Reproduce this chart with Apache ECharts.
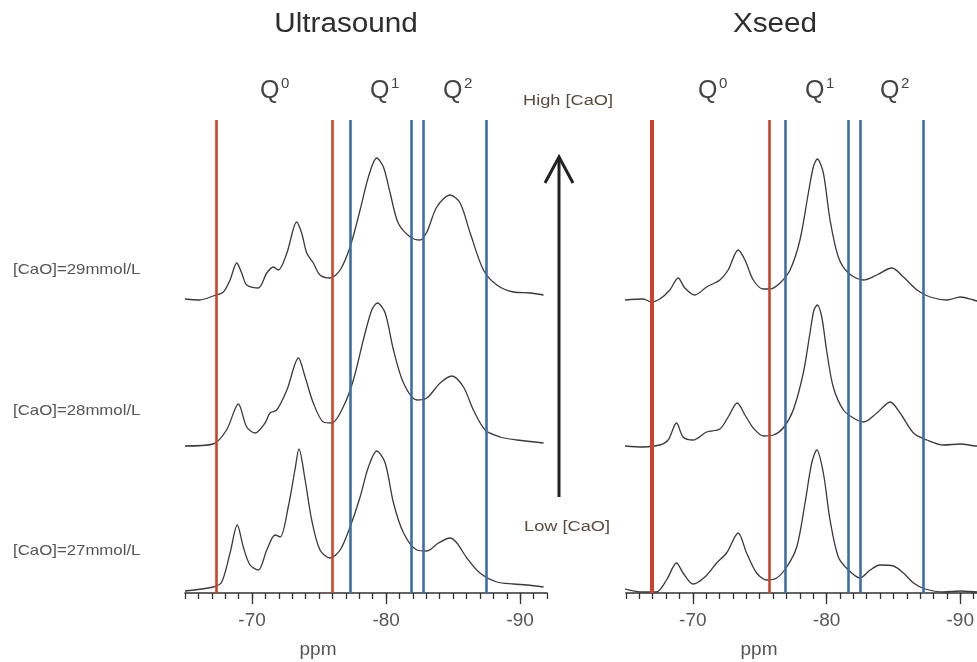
<!DOCTYPE html>
<html lang="en">
<head>
  <meta charset="utf-8" />
  <title>29Si NMR - Ultrasound vs Xseed</title>
  <script src="https://cdn.jsdelivr.net/npm/echarts@6/dist/echarts.min.js"></script>
  <style>html, body { margin: 0; background: #fff; overflow: hidden; }</style>
</head>
<body>
<!-- a bit wider than the window: the right axis runs past the page edge, like the original -->
<div id="main" style="width:1000px;height:662px;"></div>
<script>
// ppm tick labels
var tickLabels = [-70, -80, -90];
var traceLabels = ['[CaO]=29mmol/L', '[CaO]=28mmol/L', '[CaO]=27mmol/L'];

// reference lines (ppm)
var usRedLines = [-67.3, -76.0];
var usBlueLines = [-77.3, -81.9, -82.8, -87.5];
var xsRedLines = [-66.9, -75.7];
var xsBlueLines = [-76.9, -81.6, -82.5, -87.2];

// spectra: [ppm, intensity a.u.]
var us29 = [[-65.0, 0], [-66.1, -1], [-67.1, 3], [-67.86, 7], [-68.36, 19], [-68.86, 36], [-69.23, 26], [-69.6, 14],
  [-70.47, 11], [-71.1, 26], [-71.6, 32], [-71.96, 29], [-72.6, 46], [-73.33, 77], [-73.7, 66], [-74.08, 46],
  [-74.57, 36], [-75.07, 24], [-75.82, 21], [-76.57, 29], [-77.31, 52], [-78.06, 89], [-78.68, 122], [-79.3, 141],
  [-79.8, 132], [-80.3, 106], [-80.9, 76], [-81.8, 62], [-82.54, 59], [-83.04, 67], [-83.78, 92], [-84.78, 104],
  [-85.52, 96], [-86.27, 66], [-87.26, 29], [-88.26, 14], [-89.5, 7], [-90.75, 6], [-91.74, 4]];
var us28 = [[-65.0, -1], [-67.1, 1], [-68.1, 15], [-68.98, 41], [-69.6, 18], [-70.22, 12], [-70.97, 22], [-71.34, 32],
  [-71.84, 35], [-72.6, 55], [-73.46, 87], [-73.96, 68], [-74.57, 42], [-75.32, 23], [-75.95, 22], [-76.8, 38],
  [-77.56, 65], [-78.3, 105], [-78.93, 135], [-79.35, 142], [-79.93, 132], [-80.55, 95], [-81.3, 62], [-82.3, 45],
  [-83.04, 47], [-84.03, 62], [-84.9, 69], [-85.77, 58], [-86.51, 35], [-87.39, 15], [-88.5, 8], [-89.75, 5], [-91.74, 2]];
var us27 = [[-65.0, -1], [-67.1, 3], [-67.74, 8], [-68.36, 37], [-68.9, 65], [-69.35, 43], [-69.85, 25], [-70.47, 20],
  [-71.1, 40], [-71.72, 55], [-72.1, 53], [-72.7, 83], [-73.2, 120], [-73.5, 141], [-73.96, 110], [-74.45, 70],
  [-75.07, 40], [-75.82, 32], [-76.57, 40], [-77.31, 63], [-78.06, 93], [-78.68, 123], [-79.3, 139], [-79.93, 127],
  [-80.55, 87], [-81.3, 57], [-82.3, 40], [-83.04, 39], [-83.9, 47], [-84.78, 52], [-85.28, 47], [-86.02, 32],
  [-87.0, 17], [-88.26, 8], [-89.5, 6], [-90.5, 5], [-91.74, 3]];

var xs29 = [[-64.9, 0], [-66.28, 1], [-66.9, -2], [-67.53, 1], [-68.28, 10], [-68.9, 22], [-69.4, 12], [-70.15, 5],
  [-71.03, 13], [-72.02, 20], [-72.64, 30], [-73.39, 50], [-73.9, 40], [-74.52, 20], [-75.27, 11], [-75.77, 11],
  [-76.52, 17], [-77.27, 30], [-78.01, 60], [-78.64, 107], [-79.01, 133], [-79.31, 141], [-79.76, 127], [-80.26, 80],
  [-80.88, 43], [-81.63, 27], [-82.76, 20], [-83.76, 25], [-84.88, 32], [-85.75, 23], [-86.76, 10], [-87.75, 3],
  [-89.0, 0], [-90.0, 3], [-91.0, 0], [-92.0, -4]];
var xs28 = [[-64.9, 0], [-66.28, -1], [-67.53, 1], [-68.15, 6], [-68.78, 23], [-69.27, 9], [-70.02, 6], [-71.03, 14],
  [-72.02, 17], [-72.64, 29], [-73.32, 43], [-73.9, 31], [-74.52, 18], [-75.27, 10], [-76.02, 11], [-76.76, 18],
  [-77.51, 36], [-78.26, 73], [-78.76, 113], [-79.06, 136], [-79.31, 141], [-79.64, 129], [-80.0, 96], [-80.5, 59],
  [-81.26, 36], [-82.0, 28], [-82.76, 24], [-83.76, 33], [-84.76, 44], [-85.5, 33], [-86.5, 13], [-87.5, 6],
  [-88.75, 1], [-90.0, 2], [-91.26, 0], [-92.0, 1]];
var xs27 = [[-64.9, 1], [-66.28, -2], [-67.28, -2], [-68.03, 10], [-68.78, 27], [-69.27, 17], [-70.02, 6], [-70.9, 13],
  [-71.78, 27], [-72.52, 37], [-73.39, 57], [-74.02, 37], [-74.77, 17], [-75.52, 10], [-76.27, 12], [-77.02, 23],
  [-77.77, 43], [-78.39, 87], [-78.89, 127], [-79.27, 140], [-79.76, 117], [-80.26, 70], [-80.88, 33], [-81.63, 20],
  [-82.51, 12], [-83.26, 20], [-84.0, 25], [-85.0, 24], [-85.75, 17], [-86.5, 7], [-87.38, 1], [-88.75, -2],
  [-90.0, -1], [-91.26, -2], [-92.0, -1]];

// vertical stacking shift of each trace (29, 28, 27)
var usShift = [294, 148, 3];
var xsShift = [293, 147, 3];

var RED = '#c8452c';
var BLUE = '#3b6fa6';
var FONT = 'Liberation Sans, Arial, sans-serif';

var chart = echarts.init(document.getElementById('main'));

function trace(pts, shift, g, withLines) {
  var s = {
    type: 'line',
    xAxisIndex: g * 2,
    yAxisIndex: g,
    data: pts.map(function (p) { return [p[0], p[1] + shift]; }),
    symbol: 'none',
    smooth: 0.3,
    lineStyle: { color: '#3a3a3a', width: 1.3 },
    silent: true,
    animation: false
  };
  if (withLines) {
    var items = [];
    withLines[0].forEach(function (v, i) {
      items.push({ xAxis: v, lineStyle: { color: RED, width: (g === 1 && i === 0) ? 4 : 2.6, type: 'solid' } });
    });
    withLines[1].forEach(function (v) {
      items.push({ xAxis: v, lineStyle: { color: BLUE, width: 2.6, type: 'solid' } });
    });
    s.markLine = { symbol: 'none', silent: true, animation: false, label: { show: false }, data: items };
  }
  return s;
}

function axes(g) {
  return [{
    type: 'value', gridIndex: g, position: 'bottom', min: -92, max: -65, inverse: true, interval: 1,
    axisLine: { show: true, onZero: false, lineStyle: { color: '#333', width: 1.6 } },
    axisTick: { show: true, length: 6, lineStyle: { color: '#333', width: 1.3 } },
    axisLabel: {
      show: true, margin: 18, fontSize: 19, color: '#555', fontFamily: FONT,
      formatter: function (v) { return tickLabels.indexOf(v) >= 0 ? String(v) : ''; }
    },
    splitLine: { show: false }
  }, {
    // longer ticks at the labelled values
    type: 'value', gridIndex: g, position: 'bottom', min: -92, max: -65, inverse: true,
    axisLine: { show: false, onZero: false },
    axisTick: { show: true, inside: false, length: 11, customValues: tickLabels, lineStyle: { color: '#333', width: 1.3 } },
    axisLabel: { show: false },
    splitLine: { show: false }
  }];
}

function txt(t, x, y, size, color, align, sx) {
  return {
    type: 'text', x: x, y: y, scaleX: sx || 1, silent: true,
    style: { text: t, fontSize: size, fontFamily: FONT, fill: color, align: align || 'center', verticalAlign: 'middle' }
  };
}

var graphics = [
  txt('Ultrasound', 346, 25, 27, '#2e2e2e', 'center', 1.1),
  txt('Xseed', 775, 25, 27, '#2e2e2e', 'center', 1.1),
  txt('High [CaO]', 568, 101, 14, '#5b4a3c', 'center', 1.3),
  txt('Low [CaO]', 567, 527, 14, '#5b4a3c', 'center', 1.3),
  txt('ppm', 318, 650, 19, '#555', 'center'),
  txt('ppm', 759, 650, 19, '#555', 'center'),
  {
    type: 'line', silent: true,
    shape: { x1: 559, y1: 497, x2: 559, y2: 157 },
    style: { stroke: '#222', lineWidth: 3 }
  },
  {
    type: 'polyline', silent: true,
    shape: { points: [[545, 183], [559, 157], [573, 183]] },
    style: { stroke: '#222', lineWidth: 3, fill: null }
  }
];
traceLabels.forEach(function (t, i) {
  graphics.push(txt(t, 13, [270, 411, 551][i], 15, '#555', 'left', 1.12));
});
// Q^n labels
[[260, 370, 443], [698, 805, 880]].forEach(function (xs) {
  xs.forEach(function (x, n) {
    graphics.push(txt('Q', x, 91, 25, '#444', 'left'));
    graphics.push(txt(String(n), x + 21, 84, 15, '#444', 'left'));
  });
});

var option = {
  animation: false,
  backgroundColor: '#fff',
  grid: [
    { left: 185, top: 120, width: 362, height: 473 },
    { left: 626, top: 120, width: 361, height: 473 }
  ],
  xAxis: axes(0).concat(axes(1)),
  yAxis: [
    { type: 'value', gridIndex: 0, min: 0, max: 473, show: false },
    { type: 'value', gridIndex: 1, min: 0, max: 473, show: false }
  ],
  series: [
    trace(us29, usShift[0], 0),
    trace(us28, usShift[1], 0),
    trace(us27, usShift[2], 0, [usRedLines, usBlueLines]),
    trace(xs29, xsShift[0], 1),
    trace(xs28, xsShift[1], 1),
    trace(xs27, xsShift[2], 1, [xsRedLines, xsBlueLines])
  ],
  graphic: graphics
};
chart.setOption(option);
</script>
</body>
</html>
